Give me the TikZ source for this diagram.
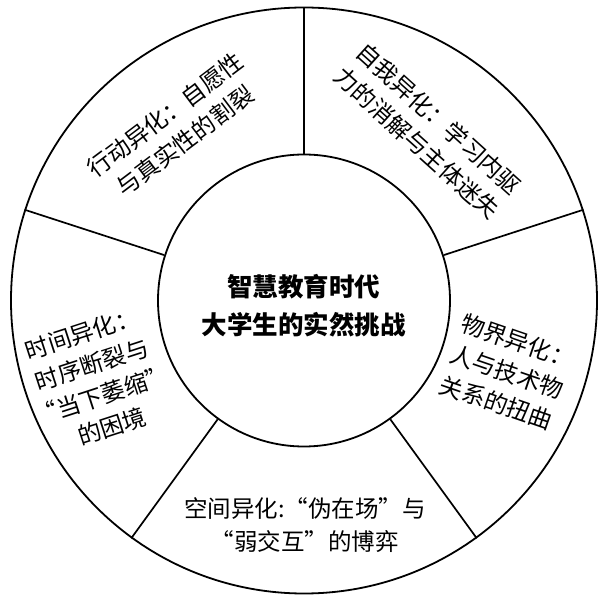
\documentclass[tikz,border=0pt]{standalone}
\usepackage{fontspec}
\newfontfamily\cjk{Noto Sans CJK SC}
\begin{document}
\begin{tikzpicture}[x=1pt,y=1pt,line width=1.8pt,
  ring/.style={circle,draw,inner sep=0pt},
  divider/.style={line width=1.7pt},
  seg/.style={font=\cjk\fontsize{23.5}{32.5}\selectfont,align=center,inner sep=0pt},
  hub/.style={font=\cjk\bfseries\fontsize{25.5}{38}\selectfont,align=center,inner sep=0pt}]
\fill[white] (-304,-296.5) rectangle (299,300.5);
\useasboundingbox (-304,-296.5) rectangle (299,300.5);
\node[ring,minimum size=586pt] (outer) at (0,0) {};
\node[ring,minimum size=292pt] (inner) at (0,0) {};
\foreach \a in {90,162,234,306,18}{
  \draw[divider] (inner.\a) -- (outer.\a);
}
\node[hub] (c) at (0,-5.5) {智慧教育时代\\大学生的实然挑战};
\node[seg,rotate=37] (t1) at (-129,172.5) {行动异化：自愿性\\与真实性的割裂};
\node[seg,rotate=-42] (t2) at (124,169.5) {自我异化：学习内驱\\力的消解与主体迷失};
\node[seg,rotate=18] (t3) at (-207,-79.5) {时间异化：\\时序断裂与\\“当下萎缩”\\的困境};
\node[seg,rotate=-19] (t4) at (203,-71.5) {物界异化：\\人与技术物\\关系的扭曲};
\node[seg] (t5) at (1,-224.5) {空间异化:“伪在场”与\\“弱交互”的博弈};
\end{tikzpicture}
\end{document}
